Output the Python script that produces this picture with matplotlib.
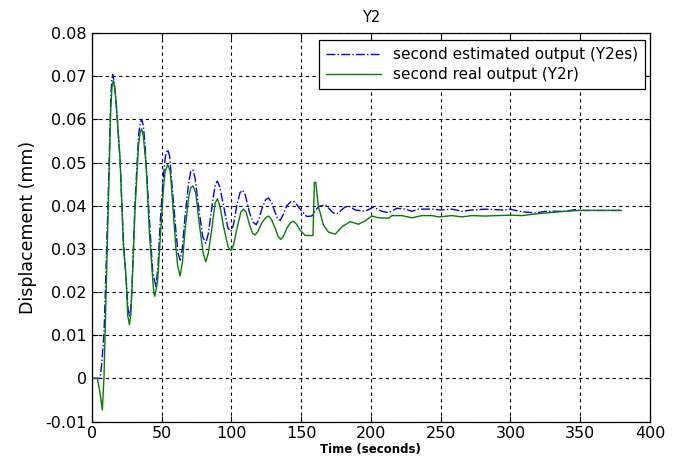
import matplotlib
matplotlib.use("Agg")
import matplotlib.pyplot as plt
from matplotlib.ticker import FuncFormatter

# second real output (Y2r)
t_real = [0, 4, 6, 7.6, 8.8, 10.3, 12, 13.6, 14.5, 15.5,
          16.6, 17.9, 20.3, 22.7, 24.6, 25.8, 27, 28, 28.7, 31,
          33.5, 34.7, 35.8, 37, 39, 41.3, 43.7, 44.5, 45.2, 47.2,
          49, 51.3, 52.6, 54.4, 56.2, 57.3, 60.2, 61.6, 63.3, 65,
          66.9, 69.5, 71, 72.5, 74.5, 77, 79.8, 81.7, 83.5, 85.9,
          88.3, 90, 91.8, 94.4, 97.7, 99.6, 101.5, 104.4, 106.8, 108.7,
          110.6, 113, 115.2, 117, 119, 121.8, 124.6, 126.6, 128.6, 131.4,
          133.6, 135.5, 137.5, 139.8, 142.5, 144.5, 146.5, 149.3, 152.9, 157.6,
          158.5, 159.5, 160.5, 162.4, 166, 169.6, 174.4, 179.2, 185.1, 191.1,
          195.9, 200.7, 205.4, 212.6, 215.1, 222.2, 229.4, 236.6, 243.8, 248.5,
          258, 265.3, 272, 282, 290, 301, 308.2, 313, 324.9, 339,
          350, 379.4]
y_real = [0, 0, -0.0035, -0.0073, 0.0004, 0.0198, 0.0414, 0.0621, 0.0675, 0.069,
          0.067, 0.062, 0.0508, 0.0305, 0.0236, 0.0145, 0.0124, 0.0148, 0.0198, 0.039,
          0.054, 0.057, 0.0578, 0.056, 0.0492, 0.0338, 0.023, 0.0198, 0.019, 0.0225,
          0.032, 0.0437, 0.048, 0.0495, 0.048, 0.0437, 0.0305, 0.026, 0.0237, 0.027,
          0.0345, 0.042, 0.0442, 0.0446, 0.043, 0.036, 0.029, 0.027, 0.029, 0.0343,
          0.0405, 0.0416, 0.040, 0.0352, 0.0305, 0.0296, 0.0308, 0.0352, 0.0385, 0.0392,
          0.0385, 0.0356, 0.0336, 0.0332, 0.034, 0.036, 0.0372, 0.0376, 0.0369, 0.0348,
          0.0328, 0.0322, 0.033, 0.0348, 0.0361, 0.0364, 0.0358, 0.0343, 0.0331, 0.0331,
          0.0331, 0.0454, 0.0454, 0.0398, 0.0355, 0.0339, 0.0334, 0.0351, 0.0363, 0.0357,
          0.0365, 0.0376, 0.0372, 0.0371, 0.0377, 0.0377, 0.0372, 0.0377, 0.0377, 0.0374,
          0.0377, 0.0374, 0.0377, 0.0376, 0.0377, 0.0378, 0.0377, 0.0379, 0.0383, 0.0387,
          0.0389, 0.0389]

# second estimated output (Y2es)
t_est = [0, 6, 7.2, 8.8, 10.3, 12, 13.6, 14.3, 15, 16,
         17.4, 20.3, 22.7, 25, 26, 27, 27.9, 28.7, 31, 33.5,
         34.7, 35.8, 37, 38.2, 41.3, 43.7, 46, 47.5, 49, 51.3,
         52.8, 54.4, 55.8, 56.8, 60.2, 61.8, 63.3, 64.9, 66.9, 69.5,
         71, 72.4, 74, 76.4, 79.5, 81.7, 83.5, 87.2, 88.6, 90,
         91.6, 94.4, 97.6, 99.6, 101.5, 103.9, 106.2, 108, 110, 113,
         115.5, 117.8, 119.8, 121.8, 124.6, 126.6, 128.8, 131.4, 133.2, 135,
         137, 139.8, 142.5, 144.5, 146.8, 149.3, 154, 157.6, 162.4, 167.2,
         173.2, 175.6, 181.5, 185, 188.7, 195.9, 201.9, 207.8, 212.6, 218.7,
         224.6, 229.4, 234.2, 243.8, 249.7, 258.1, 265.3, 272, 282, 294,
         300, 305.9, 317.7, 324.9, 339.2, 346.4, 350, 379.4]
y_est = [0, 0, 0.0035, 0.0104, 0.026, 0.0445, 0.0644, 0.069, 0.0704, 0.069,
         0.0644, 0.0506, 0.032, 0.0212, 0.016, 0.0143, 0.016, 0.02, 0.0405, 0.056,
         0.0592, 0.06, 0.0585, 0.054, 0.0369, 0.0245, 0.0213, 0.026, 0.036, 0.0467,
         0.0515, 0.053, 0.0515, 0.0475, 0.0345, 0.029, 0.0274, 0.030, 0.0377, 0.0455,
         0.048, 0.0483, 0.0465, 0.040, 0.0328, 0.0313, 0.0335, 0.0423, 0.045, 0.0457,
         0.0445, 0.040, 0.0348, 0.034, 0.0355, 0.040, 0.043, 0.0436, 0.0425, 0.0384,
         0.0362, 0.0356, 0.0368, 0.0392, 0.0414, 0.0418, 0.0408, 0.0384, 0.037, 0.0366,
         0.0378, 0.040, 0.0409, 0.041, 0.0403, 0.0392, 0.0375, 0.0376, 0.0398, 0.0402,
         0.0383, 0.0381, 0.0397, 0.0398, 0.039, 0.0387, 0.0397, 0.0387, 0.0384, 0.0394,
         0.0392, 0.0387, 0.0392, 0.0392, 0.039, 0.0392, 0.0387, 0.039, 0.0392, 0.039,
         0.0392, 0.0387, 0.0383, 0.0387, 0.0387, 0.0391, 0.0389, 0.0389]

x_ticks = [0, 50, 100, 150, 200, 250, 300, 350, 400]
y_ticks = [-0.01, 0, 0.01, 0.02, 0.03, 0.04, 0.05, 0.06, 0.07, 0.08]

plt.rcParams["font.family"] = ["DejaVu Sans"]

fig = plt.figure(figsize=(6.8, 4.63), dpi=100)
ax = fig.add_axes([0.1349, 0.0896, 0.8211, 0.8391])

ax.plot(t_est, y_est, color="#0000ff", linestyle="-.", linewidth=1.0,
        label="second estimated output (Y2es)")
ax.plot(t_real, y_real, color="#008000", linestyle="-", linewidth=1.0,
        label="second real output (Y2r)")

ax.set_xlim(0, 400)
ax.set_ylim(-0.01, 0.08)
ax.set_xticks(x_ticks)
ax.set_yticks(y_ticks)
ax.yaxis.set_major_formatter(FuncFormatter(lambda v, p: f"{round(v, 3):g}"))
ax.tick_params(direction="in", top=True, right=True, labelsize=11.5, length=4)
ax.grid(True, color="black", linestyle=(0, (3, 3)), linewidth=0.8)
for s in ax.spines.values():
    s.set_linewidth(0.9)

ax.set_title("Y2", fontsize=10.5, pad=8)
ax.set_xlabel("Time (seconds)", fontsize=8.5, fontweight="bold", labelpad=1)
ax.set_ylabel("Displacement (mm)", fontsize=12.5, labelpad=6)

leg = ax.legend(loc="upper right", bbox_to_anchor=(0.991, 0.982), borderaxespad=0,
                fontsize=11, fancybox=False, framealpha=1, edgecolor="black",
                handlelength=3.6, borderpad=0.45, labelspacing=0.35)
leg.get_frame().set_linewidth(0.9)

fig.savefig("out.png", dpi=100)
